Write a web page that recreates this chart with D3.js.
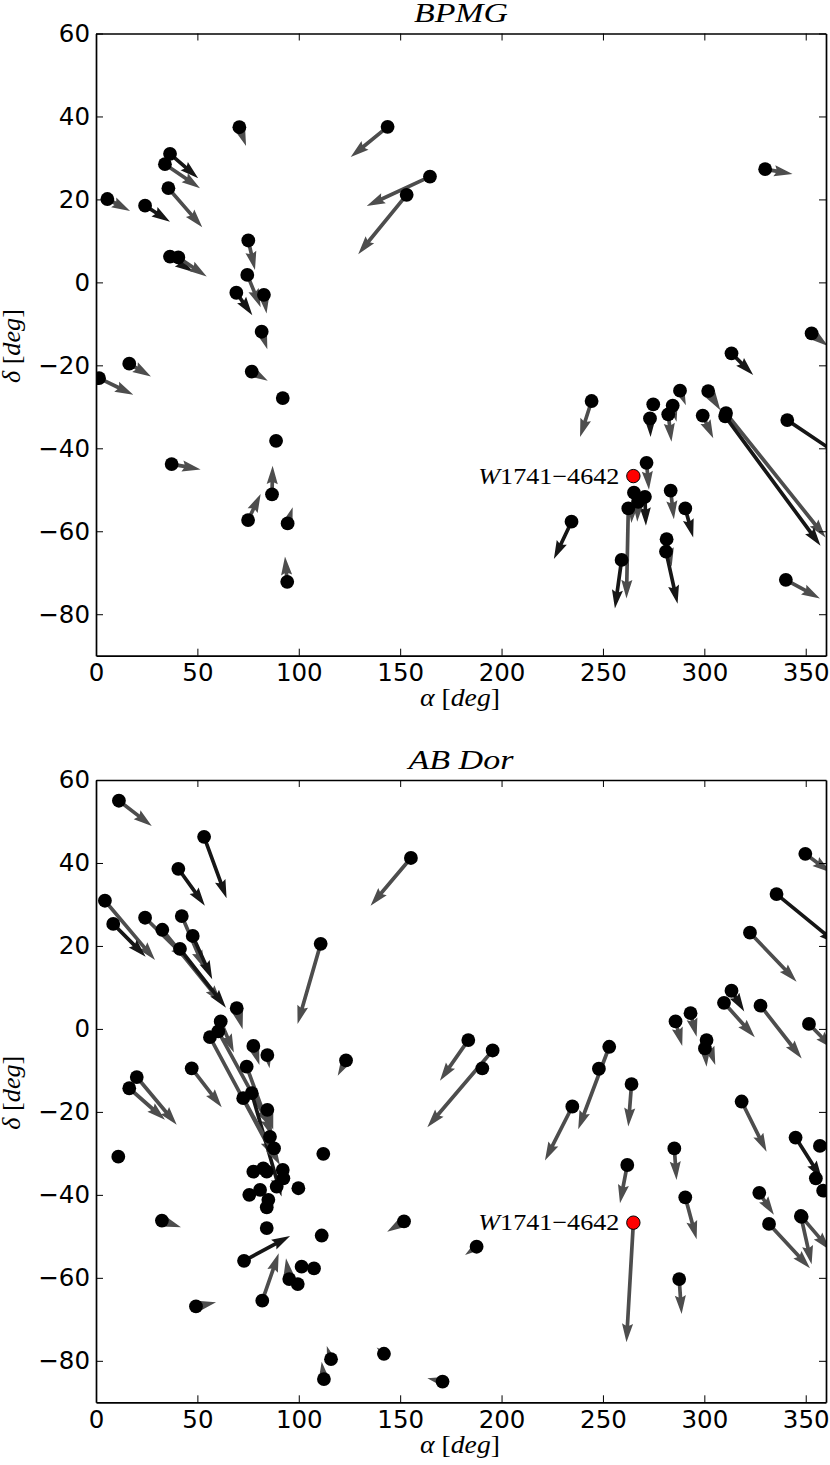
<!DOCTYPE html>
<html><head><meta charset="utf-8">
<script src="https://cdn.jsdelivr.net/npm/d3@7"></script>
<style>body{margin:0;background:#fff}</style>
</head><body><svg id="c" width="830" height="1465" xmlns="http://www.w3.org/2000/svg"></svg>
<script>
// ---------- data ----------
const xTicks = [0, 50, 100, 150, 200, 250, 300, 350];
const yTicks = [60, 40, 20, 0, -20, -40, -60, -80];
const titles = ["BPMG", "AB Dor"];
const targetName = "W1741−4642";
const targetRA = 265.0, targetDec = -46.7;
const targetDRA = [0, -3.4], targetDDec = [0, -28.8];

// BPMG members: position, arrow vector (deg), colour flag (0 gray, 1 black)
const bpmgRA   = [5.6, 24.2, 36.5, 34.0, 35.7, 36.5, 40.6, 70.7, 75.1, 74.6, 69.2, 82.8, 81.7, 16.4, 1.5, 76.8, 92.1, 88.8, 37.3, 86.8, 75.0, 94.5, 94.3, 143.8, 153.2, 164.7, 330.0, 352.9, 313.4, 244.4, 274.8, 284.4, 288.0, 273.2, 282.2, 301.9, 299.2, 310.7, 310.3, 340.9, 271.5, 265.3, 270.7, 262.5, 267.4, 283.4, 290.6, 234.5, 259.2, 281.4, 281.1, 340.2];
const bpmgDec  = [20.1, 18.5, 31.0, 28.5, 22.7, 6.2, 6.0, 37.4, 10.1, 1.8, -2.5, -3.0, -11.9, -19.6, -23.1, -21.5, -27.9, -38.2, -43.8, -51.1, -57.3, -58.1, -72.2, 37.5, 21.1, 25.5, 27.3, -12.3, -17.1, -28.6, -29.4, -29.7, -26.1, -32.8, -31.8, -26.2, -32.1, -31.5, -32.3, -33.2, -43.5, -50.7, -51.7, -54.5, -52.9, -50.2, -54.5, -57.7, -66.9, -61.9, -64.9, -71.7];
const bpmgDRA  = [11.2, 12.3, 13.9, 17.3, 16.7, 11.5, 14.0, 3.3, 3.3, 6.6, 7.9, 1.3, 2.8, 10.7, 16.9, 7.9, 0, 0, 14.3, 0.3, 6.2, 2.5, -1.1, -18.2, -23.9, -31.2, 13.5, 8.0, 10.7, -5.7, 0, 1.9, 2.9, 0.3, 1.6, 6.0, 5.2, 49.1, 47.0, 28.0, 1.2, -1.3, 0.5, -0.9, -0.5, 1.6, 3.9, -8.7, -3.3, 2.5, 5.7, 16.8];
const bpmgDDec = [-2.9, -3.9, -5.9, -5.8, -9.4, -3.7, -4.6, -4.5, -7.1, -7.8, -5.4, -4.5, -4.2, -3.1, -4.0, -2.2, 0, 0, -1.3, 6.9, 6.3, 3.9, 6.1, -7.3, -14.3, -7.1, -1.2, -3.0, -5.2, -8.7, 0, -3.9, -3.5, -4.5, -6.6, -4.6, -5.5, -30.0, -31.2, -9.2, -6.5, -7.3, -7.0, -21.7, -4.8, -6.9, -7.0, -9.0, -11.7, -6.6, -12.6, -4.5];
const bpmgDark = [0, 1, 1, 0, 0, 1, 0, 0, 0, 0, 1, 0, 0, 0, 0, 0, 0, 0, 0, 0, 0, 0, 0, 0, 0, 0, 0, 0, 1, 0, 0, 0, 0, 1, 0, 0, 0, 0, 1, 1, 0, 0, 1, 0, 0, 0, 1, 1, 1, 0, 1, 0];

// AB Dor members
const abdRA   = [11.3, 53.3, 40.6, 155.3, 4.4, 8.5, 24.2, 32.7, 42.3, 47.7, 41.4, 110.8, 69.4, 61.5, 60.3, 56.2, 77.6, 84.5, 123.3, 47.2, 74.3, 20.1, 16.4, 76.8, 72.6, 84.5, 85.8, 87.8, 92.1, 92.4, 89.1, 99.8, 112.1, 77.6, 82.5, 84.2, 75.6, 80.9, 85.0, 84.2, 84.2, 111.3, 11.0, 32.5, 73.0, 82.0, 101.4, 107.5, 95.3, 99.5, 49.3, 115.9, 112.4, 142.0, 151.9, 183.6, 195.6, 190.5, 253.1, 248.0, 234.9, 264.1, 262.0, 285.2, 290.6, 287.6, 187.7, 170.9, 349.8, 335.6, 322.5, 313.4, 309.7, 327.7, 351.6, 293.2, 285.8, 301.1, 300.3, 318.4, 345.0, 357.0, 355.0, 358.6, 327.1, 331.9, 347.6, 348.0, 264.0];
const abdDec  = [55.0, 46.3, 38.6, 41.2, 30.9, 25.3, 26.8, 23.9, 27.2, 22.4, 19.3, 20.5, 5.0, 1.8, -0.6, -2.0, -4.1, -6.3, -7.6, -9.5, -9.1, -11.6, -14.3, -15.5, -16.7, -19.5, -26.0, -28.8, -34.0, -36.0, -38.0, -38.4, -30.1, -34.4, -33.6, -34.4, -40.0, -38.8, -41.2, -43.0, -48.0, -49.8, -30.8, -46.2, -55.9, -65.5, -57.3, -57.7, -60.3, -61.5, -66.9, -79.6, -84.4, -78.3, -46.4, -2.7, -5.2, -9.5, -4.3, -9.6, -18.7, -13.3, -32.8, -28.8, -40.6, -60.3, -52.5, -85.0, 42.2, 32.5, 23.2, 9.2, 6.3, 5.6, 1.2, 3.8, 1.8, -2.7, -4.7, -17.5, -26.2, -28.2, -36.0, -39.0, -39.5, -47.0, -45.1, -45.3, 61.4];
const abdDRA  = [16.2, 11.1, 13.1, -19.9, 24.7, 16.0, 21.3, 29.3, 11.2, 9.6, 22.7, -11.4, 2.9, 6.5, 25.5, 31.8, 3.0, 1.1, -4.1, 14.8, 12.7, 19.7, 17.6, 14.7, 18.1, 2.9, 0, 0, 0, 0, 0, 0, 0, 0, 0, 0, 0, 3.0, 0, 0, 0, 0, 0, 9.4, 22.7, 8.1, 0, 0, -1.6, 0, 9.9, -2.1, -1.1, -3.6, -8.3, -14.0, -32.2, 0, -15.3, 0, -13.5, -1.6, -3.6, 1.1, 5.6, 1.2, -5.7, -7.5, 12.5, 30.0, 23.0, 6.3, 15.2, 20.3, 12.0, 3.0, 3.3, 4.3, 0.8, 12.3, 13.0, 0, 0, 0, 7.2, 20.2, 5.3, 14.0, 0];
const abdDDec = [-6.1, -14.8, -8.9, -11.5, -14.3, -7.9, -10.2, -17.7, -12.7, -10.4, -14.2, -19.3, -5.1, -7.5, -22.9, -29.0, -4.6, -3.2, -3.7, -9.4, -16.9, -11.5, -7.6, -24.9, -16.1, -4.8, 0, 0, 0, 0, 0, 0, 0, 0, 0, 0, 0, -1.5, 0, 0, 0, 0, 0, -1.6, 6.0, 11.4, 0, 0, 5.0, 0, 1.0, 3.2, 4.2, 1.5, -2.5, -9.8, -18.5, 0, -19.9, 0, -13.0, -10.2, -9.2, -7.6, -10.1, -8.4, -2.0, 0.8, -4.5, -12.0, -11.8, -5.0, -8.3, -12.7, -6.0, -5.7, -5.9, -6.0, -4.4, -12.1, -10.0, 0, 0, 0, -5.3, -10.7, -11.6, -8.0, 0];
const abdDark = [0, 1, 1, 0, 0, 1, 0, 0, 0, 1, 1, 0, 0, 0, 0, 0, 0, 0, 0, 0, 0, 0, 0, 1, 0, 0, 0, 0, 0, 0, 0, 0, 0, 0, 0, 0, 0, 0, 0, 0, 0, 0, 0, 0, 1, 0, 0, 0, 0, 0, 0, 0, 0, 0, 0, 0, 0, 0, 0, 0, 0, 0, 0, 0, 0, 0, 0, 0, 0, 1, 0, 1, 0, 0, 0, 0, 0, 0, 0, 0, 1, 0, 0, 0, 0, 0, 0, 0, 0];

const panels = [
  {ra: bpmgRA, dec: bpmgDec, dra: bpmgDRA, ddec: bpmgDDec, dark: bpmgDark, top: 33.5, bottom: 655.7},
  {ra: abdRA, dec: abdDec, dra: abdDRA, ddec: abdDDec, dark: abdDark, top: 780, bottom: 1402.3}
];

// ---------- drawing ----------
const svg = d3.select("#c");
const left = 96, right = 826;
const GRAY = "#4d4d4d", BLACK = "#161616";
const SHAFT = 3.7;
const SERIF = "Liberation Serif, DejaVu Serif, serif";

function arrowPoly(x0, y0, x1, y1, w) {
  const dx = x1 - x0, dy = y1 - y0, Lpx = Math.hypot(dx, dy);
  if (Lpx < 0.5) return null;
  const L = Lpx / w, hl = 5, hal = 4.5, minsh = 5;
  let X, Y = [0.5, 0.5, 1.5, 0, -1.5, -0.5, -0.5];
  if (L >= minsh) {
    X = [0, L - hal, L - hl, L, L - hl, L - hal, 0];
  } else {
    const s = L / minsh;
    X = [0, minsh - hal, minsh - hl, minsh, minsh - hl, minsh - hal, 0].map(v => v * s);
    Y = Y.map(v => v * s);
  }
  const c = dx / Lpx, s = dy / Lpx;
  return X.map((x, i) => [x0 + w * (x * c - Y[i] * s), y0 + w * (x * s + Y[i] * c)]);
}

panels.forEach((p, k) => {
  const x = d3.scaleLinear().domain([0, 360]).range([left, right]);
  const y = d3.scaleLinear().domain([-90, 60]).range([p.bottom, p.top]);
  const g = svg.append("g");
  const clipId = "clip" + k;
  svg.append("defs").append("clipPath").attr("id", clipId)
    .append("rect").attr("x", left).attr("y", p.top).attr("width", right - left).attr("height", p.bottom - p.top);
  const plot = g.append("g").attr("clip-path", `url(#${clipId})`);

  const idx = d3.range(p.ra.length);
  const line = d3.line();
  const arrows = idx.map(i => ({
    pts: arrowPoly(x(p.ra[i]), y(p.dec[i]), x(p.ra[i] + p.dra[i]), y(p.dec[i] + p.ddec[i]), SHAFT),
    dark: p.dark[i]
  }));
  const tArrow = arrowPoly(x(targetRA), y(targetDec), x(targetRA + targetDRA[k]), y(targetDec + targetDDec[k]), SHAFT);
  if (tArrow) arrows.push({pts: tArrow, dark: 0});
  plot.selectAll("path.arr").data(arrows.filter(a => a.pts)).join("path")
    .attr("class", "arr")
    .attr("d", a => line(a.pts) + "Z")
    .attr("fill", a => a.dark ? BLACK : GRAY)
    .attr("stroke", "none");
  plot.selectAll("circle.pt").data(idx).join("circle")
    .attr("class", "pt")
    .attr("cx", i => x(p.ra[i])).attr("cy", i => y(p.dec[i])).attr("r", 6.9)
    .attr("fill", "#000");
  plot.append("circle").attr("cx", x(targetRA)).attr("cy", y(targetDec)).attr("r", 6.7)
    .attr("fill", "#ff0000").attr("stroke", "#000").attr("stroke-width", 1);

  // target label
  const lab = g.append("text")
    .attr("x", x(targetRA) - 14).attr("y", y(targetDec) + 7.5)
    .attr("text-anchor", "end")
    .attr("font-family", SERIF).attr("font-size", 23)
    .attr("textLength", 141).attr("lengthAdjust", "spacingAndGlyphs");
  lab.append("tspan").attr("font-style", "italic").text(targetName.slice(0, 1));
  lab.append("tspan").text(targetName.slice(1));

  // axes
  const fontTick = "DejaVu Sans, sans-serif";
  const axB = g.append("g").attr("transform", `translate(0,${p.bottom})`)
    .call(d3.axisBottom(x).tickValues(xTicks).tickSizeInner(-7).tickSizeOuter(0).tickPadding(8));
  const axT = g.append("g").attr("transform", `translate(0,${p.top})`)
    .call(d3.axisTop(x).tickValues(xTicks).tickSizeInner(-7).tickSizeOuter(0).tickFormat(""));
  const axL = g.append("g").attr("transform", `translate(${left},0)`)
    .call(d3.axisLeft(y).tickValues(yTicks).tickSizeInner(-7).tickSizeOuter(0).tickPadding(6));
  const axR = g.append("g").attr("transform", `translate(${right},0)`)
    .call(d3.axisRight(y).tickValues(yTicks).tickSizeInner(-7).tickSizeOuter(0).tickFormat(""));
  [axB, axT, axL, axR].forEach(a => {
    a.attr("font-size", null).attr("font-family", null);
    a.select(".domain").attr("stroke", "#000").attr("stroke-width", 1.7);
    a.selectAll(".tick line").attr("stroke", "#000").attr("stroke-width", 1);
    a.selectAll(".tick text").attr("font-family", fontTick).attr("font-size", 24.5).attr("fill", "#000");
  });

  // title
  g.append("text").attr("x", (left + right) / 2).attr("y", p.top - 11.5)
    .attr("text-anchor", "middle").attr("font-family", SERIF)
    .attr("font-style", "italic").attr("font-size", 28)
    .attr("textLength", k === 0 ? 94 : 105).attr("lengthAdjust", "spacingAndGlyphs")
    .text(titles[k]);

  // x label
  const xl = g.append("text").attr("x", 460).attr("y", p.bottom + 50.5)
    .attr("text-anchor", "middle").attr("font-family", SERIF)
    .attr("font-size", 26).attr("textLength", 80).attr("lengthAdjust", "spacingAndGlyphs");
  xl.append("tspan").attr("font-style", "italic").text("α");
  xl.append("tspan").text(" [");
  xl.append("tspan").attr("font-style", "italic").text("deg");
  xl.append("tspan").text("]");

  // y label
  const cy = (p.top + p.bottom) / 2 + 1.5;
  const yl = g.append("text").attr("transform", `translate(19.5,${cy}) rotate(-90)`)
    .attr("text-anchor", "middle").attr("font-family", SERIF)
    .attr("font-size", 26).attr("textLength", 74).attr("lengthAdjust", "spacingAndGlyphs");
  yl.append("tspan").attr("font-style", "italic").text("δ");
  yl.append("tspan").text(" [");
  yl.append("tspan").attr("font-style", "italic").text("deg");
  yl.append("tspan").text("]");
});
</script></body></html>
